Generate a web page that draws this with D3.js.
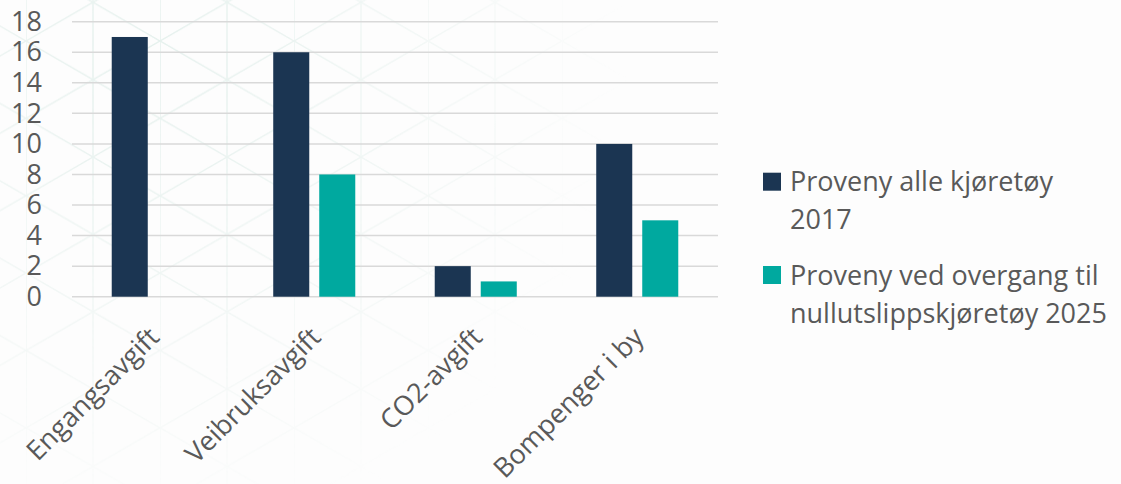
<!DOCTYPE html>
<html>
<head>
<meta charset="utf-8">
<script src="https://cdn.jsdelivr.net/npm/d3@7"></script>
<style>
  html, body { margin: 0; padding: 0; background: #fdfdfd; }
  svg { display: block; font-family: "Open Sans", sans-serif; }
</style>
</head>
<body>
<svg id="chart" width="1121" height="484"></svg>
<script>
const categories = ['Engangsavgift', 'Veibruksavgift', 'CO2-avgift', 'Bompenger i by'];
const seriesNames = ['Proveny alle kjøretøy 2017', 'Proveny ved overgang til nullutslippskjøretøy 2025'];
const alleKjoretoy2017 = [17, 16, 2, 10];
const nullutslipp2025 = [null, 8, 1, 5];
const yTicks = [0, 2, 4, 6, 8, 10, 12, 14, 16, 18];
// legend text is wrapped the same way as in the original
const legendLines = [['Proveny alle kjøretøy', '2017'], ['Proveny ved overgang til', 'nullutslippskjøretøy 2025']];

const colours = ['#1b3552', '#00a99f'];
const textColour = '#595959';

const svg = d3.select('#chart');
const width = 1121, height = 484;
const plot = { left: 72, right: 718, top: 21.7, bottom: 296.7 };

// faint hex pattern in the background
const defs = svg.append('defs');
const d = 67, L = 2 * d / Math.sqrt(3);
const pat = defs.append('pattern')
    .attr('id', 'hex')
    .attr('patternUnits', 'userSpaceOnUse')
    .attr('width', 2 * d).attr('height', L)
    .attr('x', 26).attr('y', 41);
const patLines = [[0, 0, 0, L], [d, 0, d, L], [0, 0, 2 * d, L], [0, L, 2 * d, 0]];
pat.selectAll('line').data(patLines).join('line')
    .attr('x1', p => p[0]).attr('y1', p => p[1])
    .attr('x2', p => p[2]).attr('y2', p => p[3])
    .attr('stroke', '#e2efeb').attr('stroke-width', 1.5);
const grad = defs.append('radialGradient')
    .attr('id', 'fade').attr('gradientUnits', 'userSpaceOnUse')
    .attr('cx', 150).attr('cy', 60).attr('r', 480);
grad.append('stop').attr('offset', 0).attr('stop-color', '#fff').attr('stop-opacity', 0.9);
grad.append('stop').attr('offset', 0.5).attr('stop-color', '#fff').attr('stop-opacity', 0.45);
grad.append('stop').attr('offset', 1).attr('stop-color', '#fff').attr('stop-opacity', 0);
defs.append('mask').attr('id', 'fadeMask')
    .append('rect').attr('width', width).attr('height', height).attr('fill', 'url(#fade)');

svg.append('rect').attr('width', width).attr('height', height).attr('fill', '#fdfdfd');
svg.append('rect').attr('width', width).attr('height', height)
    .attr('fill', 'url(#hex)').attr('mask', 'url(#fadeMask)');

const x0 = d3.scaleBand()
    .domain(categories)
    .range([plot.left, plot.right])
    .paddingInner(0.492)
    .paddingOuter(0.246);
const x1 = d3.scaleBand()
    .domain(seriesNames)
    .range([0, x0.bandwidth()])
    .paddingInner(0.217);
const y = d3.scaleLinear().domain([0, 18]).range([plot.bottom, plot.top]);

// gridlines
svg.append('g')
    .selectAll('line').data(yTicks).join('line')
    .attr('x1', plot.left).attr('x2', plot.right)
    .attr('y1', t => y(t)).attr('y2', t => y(t))
    .attr('stroke', '#d9d9d9').attr('stroke-width', 1.5);

// y axis labels
const yAxis = svg.append('g')
    .attr('transform', `translate(${plot.left}, 0)`)
    .call(d3.axisLeft(y).tickValues(yTicks).tickSize(0).tickPadding(30));
yAxis.select('.domain').remove();
yAxis.selectAll('text')
    .attr('fill', textColour)
    .style('font-size', '27px')
    .style('font-family', '"Open Sans", sans-serif');

// bars
const rows = categories.map((c, i) => ({
    category: c,
    values: [alleKjoretoy2017[i], nullutslipp2025[i]]
}));
const groups = svg.append('g')
    .selectAll('g').data(rows).join('g')
    .attr('transform', r => `translate(${x0(r.category)}, 0)`);
groups.selectAll('rect')
    .data(r => r.values.map((v, i) => ({ series: seriesNames[i], value: v, i })).filter(v => v.value != null))
    .join('rect')
    .attr('x', v => x1(v.series))
    .attr('width', x1.bandwidth())
    .attr('y', v => y(v.value))
    .attr('height', v => y(0) - y(v.value))
    .attr('fill', v => colours[v.i]);

// rotated category labels
svg.append('g')
    .selectAll('text').data(categories).join('text')
    .attr('transform', c => `translate(${x0(c) + x0.bandwidth() / 2 + 8}, 339) rotate(-45)`)
    .attr('text-anchor', 'end')
    .attr('fill', textColour)
    .style('font-size', '27px')
    .text(c => c);

// legend
const legend = svg.append('g').attr('transform', 'translate(763, 0)');
const itemTop = [172.7, 266];
const legendItems = legend.selectAll('g').data(seriesNames).join('g')
    .attr('transform', (s, i) => `translate(0, ${itemTop[i]})`);
legendItems.append('rect')
    .attr('width', 18).attr('height', 18)
    .attr('fill', (s, i) => colours[i]);
legendItems.append('text')
    .attr('x', 27).attr('y', 18.5)
    .attr('fill', textColour)
    .style('font-size', '27px')
    .selectAll('tspan').data((s, i) => legendLines[i]).join('tspan')
    .attr('x', 27)
    .attr('dy', (t, j) => j === 0 ? 0 : 38)
    .text(t => t);
</script>
</body>
</html>
